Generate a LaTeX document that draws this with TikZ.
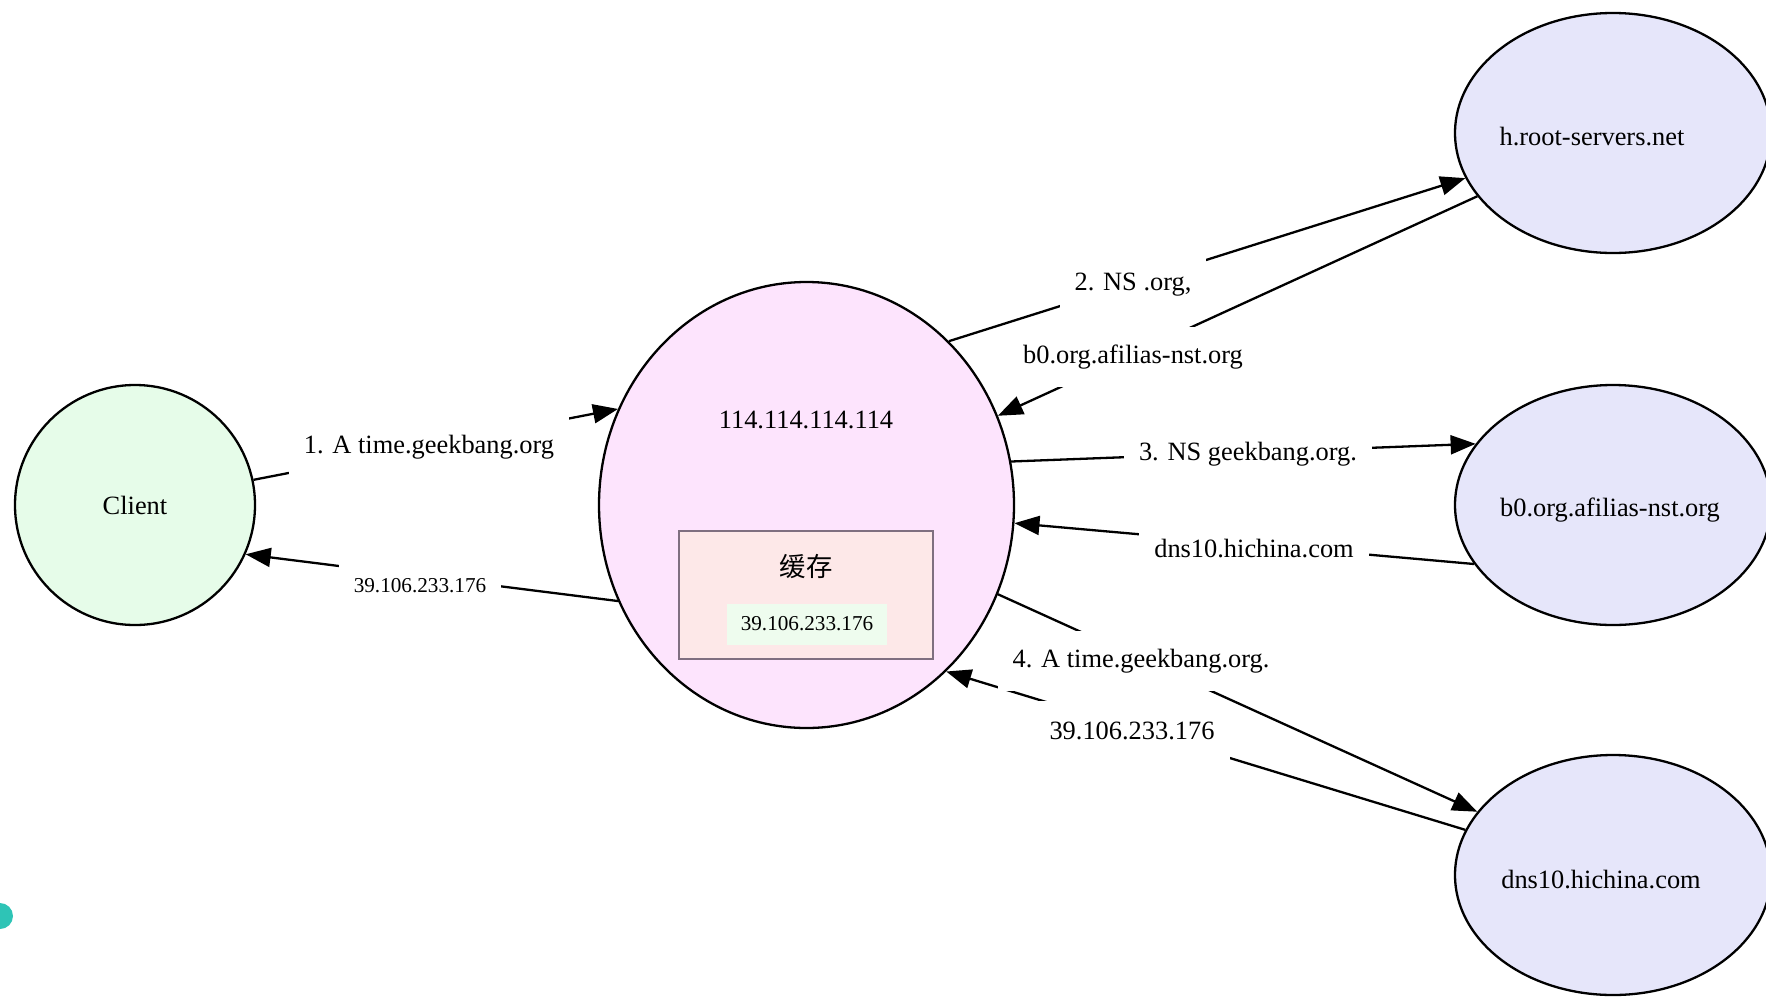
\documentclass[tikz,border=0pt]{standalone}
\usepackage{fontspec}
\setmainfont{Liberation Serif}
\newfontfamily\cjkfont{Noto Sans CJK SC}
\usetikzlibrary{arrows.meta,shapes.geometric}
\definecolor{clientfill}{HTML}{E6FCE9}
\definecolor{mainfill}{HTML}{FDE4FD}
\definecolor{serverfill}{HTML}{E6E6FA}
\definecolor{cachefill}{HTML}{FDE8E8}
\definecolor{cacheborder}{HTML}{7F6F80}
\definecolor{entryfill}{HTML}{EEFCEE}
\definecolor{dotcolor}{HTML}{2EC4B6}
\begin{document}
\begin{tikzpicture}[x=0.5pt,y=-0.5pt,
  every node/.style={font=\fontsize{13.2}{15}\selectfont, inner sep=0pt},
  shapebox/.style={draw=black, line width=1.15pt},
  server/.style={ellipse, shapebox, fill=serverfill, minimum width=158pt, minimum height=120pt},
  conn/.style={line width=1.15pt, -{Triangle[length=12.5pt,width=9.5pt]}},
  lbl/.style={fill=white, inner xsep=7.5pt, minimum height=30pt},
  smalltext/.style={font=\fontsize{10.6}{13}\selectfont}]
\useasboundingbox (0,0) rectangle (1766,996);

% nodes
\node[circle, shapebox, fill=clientfill, minimum size=120pt] (client) at (135,505) {};
\node (clienttext) at (135,505) {Client};

\node[ellipse, shapebox, fill=mainfill, minimum width=207.5pt, minimum height=223pt] (main) at (806.5,505) {};
\node (maintext) at (806,420) {114.114.114.114};
\node[draw=cacheborder, line width=0.9pt, fill=cachefill, minimum width=127pt, minimum height=64pt] (cache) at (806,595) {};
\node (cachetitle) at (806,566) {\cjkfont 缓存};
\node[fill=entryfill, minimum width=80pt, minimum height=20.5pt, smalltext] (cacheentry) at (807,624) {39.106.233.176};

\node[server] (root) at (1613,133) {};
\node (roottext) at (1592,137) {h.root-servers.net};
\node[server] (org) at (1613,505) {};
\node (orgtext) at (1610,510) {b0.org.afilias-nst.org};
\node[server] (dns) at (1613,875) {};
\node (dnstext) at (1601,880) {dns10.hichina.com};

\fill[dotcolor] (0,916) circle[radius=6.5pt];

% connectors
\draw[conn] (client.12) -- (main.153);
\draw[conn] (main.207) -- (client.-24);
\draw[conn] (main.49) -- (root.197);
\draw[conn] (root.205) -- (main.25);
\draw[conn] (main.12) -- (org.156);
\draw[conn] (org.203) -- (main.-5);
\draw[conn] (main.-25) -- (dns.155);
\draw[conn] (dns.163) -- (main.-50);

% labels
\node[lbl] (l1) at (429,447) {1. A time.geekbang.org};
\node[lbl, smalltext] (l1r) at (420,586) {39.106.233.176};
\node[lbl] (l2) at (1133,285) {2. NS .org,};
\node[lbl] (l2r) at (1133,357) {b0.org.afilias-nst.org};
\node[lbl] (l3) at (1248,454) {3. NS geekbang.org.};
\node[lbl] (l3r) at (1254,549) {dns10.hichina.com};
\node[lbl] (l4) at (1141,661) {4. A time.geekbang.org.};
\node[lbl] (l4r) at (1132,731) {39.106.233.176};
\end{tikzpicture}
\end{document}
